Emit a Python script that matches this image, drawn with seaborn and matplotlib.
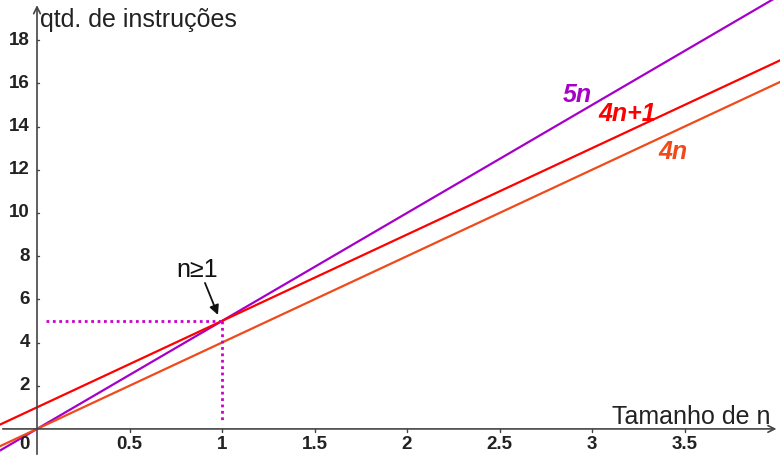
import numpy as np
import pandas as pd
import matplotlib
matplotlib.use("Agg")
import matplotlib.pyplot as plt
import seaborn as sns

# dados das retas (extremos visiveis)
n_vals = [-0.2, 4.1]
y_5n = [-1.0, 20.5]
y_4n1 = [0.2, 17.4]
y_4n = [-0.8, 16.4]

# ponto de referencia n>=1
n_ref = 1
q_ref = 5

x_ticks = [0.5, 1, 1.5, 2, 2.5, 3, 3.5]
x_tick_labels = ["0.5", "1", "1.5", "2", "2.5", "3", "3.5"]
y_ticks = [2, 4, 6, 8, 10, 12, 14, 16, 18]

sns.set_theme(style="white")
plt.rcParams["font.family"] = ["Liberation Sans", "DejaVu Sans"]

df = pd.DataFrame({
    "n": n_vals * 3,
    "q": y_5n + y_4n1 + y_4n,
    "serie": ["5n"] * 2 + ["4n+1"] * 2 + ["4n"] * 2,
})
cores = {"5n": "#a600c8", "4n+1": "#ff0000", "4n": "#f04a1a"}

fig = plt.figure(figsize=(7.8, 4.57), dpi=100)
ax = fig.add_axes([0, 0, 1, 1])

sns.lineplot(data=df, x="n", y="q", hue="serie", palette=cores,
             linewidth=1.6, legend=False, ax=ax)

# linhas pontilhadas
sns.lineplot(x=[0.05, n_ref], y=[q_ref, q_ref], color="#cc00cc",
             linestyle=(0, (1, 1.3)), linewidth=2, estimator=None,
             sort=False, ax=ax)
sns.lineplot(x=[n_ref, n_ref], y=[q_ref, 0.4], color="#cc00cc",
             linestyle=(0, (1, 1.3)), linewidth=2, estimator=None,
             sort=False, ax=ax)

ax.set_xlim(-0.2, 4.016)
ax.set_ylim(-1.3, 19.86)
for s in ax.spines.values():
    s.set_visible(False)
ax.set_xticks([])
ax.set_yticks([])
ax.set_xlabel("")
ax.set_ylabel("")

# eixos com setas
cor_eixo = "#444444"
ax.annotate("", xy=(4.012, 0), xytext=(-0.2, 0),
            arrowprops=dict(arrowstyle="->", color=cor_eixo, lw=1.2))
ax.annotate("", xy=(0, 19.75), xytext=(0, -1.3),
            arrowprops=dict(arrowstyle="->", color=cor_eixo, lw=1.2))

for xt, lab in zip(x_ticks, x_tick_labels):
    ax.plot([xt, xt], [0, -0.12], color=cor_eixo, lw=1)
    ax.text(xt, -0.33, lab, ha="center", va="top", fontsize=13.5,
            fontweight="bold", color="#222222")
for yt in y_ticks:
    ax.plot([0, 0.012], [yt, yt], color=cor_eixo, lw=1)
    ax.text(-0.038, yt, str(yt), ha="right", va="center", fontsize=13.5,
            fontweight="bold", color="#222222")
ax.text(-0.038, -0.33, "0", ha="right", va="top", fontsize=13.5,
        fontweight="bold", color="#222222")

ax.text(0.015, 18.95, "qtd. de instruções", ha="left", va="center",
        fontsize=18, color="#222222")
ax.text(3.11, 0.55, "Tamanho de n", ha="left", va="center",
        fontsize=18, color="#222222")

# rotulos das retas
ax.text(2.92, 15.46, "5n", color="#a600c8", fontsize=18, fontweight="bold",
        fontstyle="italic", ha="center", va="center")
ax.text(3.19, 14.6, "4n+1", color="#ff0000", fontsize=18, fontweight="bold",
        fontstyle="italic", ha="center", va="center")
ax.text(3.44, 12.8, "4n", color="#f04a1a", fontsize=18, fontweight="bold",
        fontstyle="italic", ha="center", va="center")

ax.text(0.865, 7.36, "n≥1", ha="center", va="center", fontsize=18,
        color="#111111")
ax.annotate("", xy=(0.978, 5.28), xytext=(0.908, 6.76),
            arrowprops=dict(arrowstyle="-|>", color="#111111", lw=1.3,
                            shrinkA=0, shrinkB=0, mutation_scale=14))

fig.savefig("out.png", dpi=100)
